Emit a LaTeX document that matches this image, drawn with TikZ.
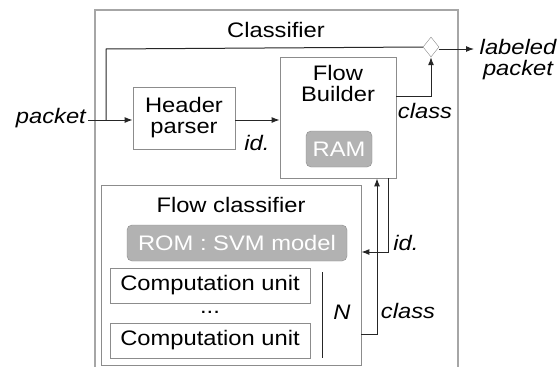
\documentclass[tikz,border=0pt]{standalone}
\usepackage{fontspec}
\setmainfont{Liberation Sans}[FakeStretch=1.13]
\usetikzlibrary{arrows.meta,shapes.geometric}
\begin{document}
\begin{tikzpicture}[x=1pt,y=-1pt,
  font=\fontsize{21}{24}\selectfont,
  box/.style={draw=black!45,line width=0.8pt,fill=white,inner sep=0pt},
  mem/.style={draw=black!45,fill=black!30,rounded corners=5pt,text=white,inner sep=0pt},
  wire/.style={draw=black!85,line width=1pt},
  arr/.style={wire,-{Latex[length=8pt,width=6pt]}},
  lbl/.style={font=\fontsize{21}{24}\selectfont\itshape,inner sep=0pt}]
\useasboundingbox (0,0) rectangle (558,367);
% outer classifier box (open at bottom)
\draw[draw=black!35,line width=1.2pt] (95,380) -- (95,10) -- (458,10) -- (458,380);
\node (cls) at (276,30) {Classifier};
% header parser
\node[box,minimum width=102pt,minimum height=62pt,align=center] (hp) at (184,118) {Header\\[-3pt]parser};
% flow builder
\node[box,minimum width=116pt,minimum height=121pt] (fb) at (338,117.5) {};
\node[align=center,anchor=north] (fbt) at (338,62) {Flow\\[-3pt]Builder};
\node[mem,minimum width=66pt,minimum height=36pt] (ram) at (339,149) {RAM};
% diamond
\node[diamond,draw=black!45,fill=white,minimum width=16pt,minimum height=20pt,inner sep=0pt] (dia) at (431,47) {};
% flow classifier
\node[box,minimum width=260pt,minimum height=180pt] (fc) at (231,275) {};
\node (fct) at (231,205) {Flow classifier};
\node[mem,minimum width=220pt,minimum height=36pt] (rom) at (237,243) {ROM : SVM model};
\node[box,minimum width=200pt,minimum height=35pt] (cu1) at (210,285.5) {Computation unit};
\node (dots) at (210,312) {...};
\node[box,minimum width=200pt,minimum height=35pt] (cu2) at (210,340.5) {Computation unit};
\coordinate (nt) at (322,272);
\coordinate (nb) at (322,358);
\draw[wire] (nt) -- (nb);
\node[lbl] (nlab) at (342,312) {N};
% inputs
\node[lbl,anchor=east] (pk) at (86,118) {packet};
\coordinate (split) at (106,120);
\coordinate (splitup) at (106,49);
\draw[arr] (pk.east) ++(2,2) coordinate (pk0) -- (hp.west |- pk0);
\draw[wire] (split) -- (splitup) -- (dia.west);
\draw[arr] (hp.east |- 0,120) -- (fb.west |- 0,120);
\node[lbl] (idl) at (257,143) {id.};
% class to diamond
\coordinate (cb) at (431,96);
\draw[arr] (fb.east |- cb) -- (cb) -- (dia.south);
\node[lbl] (cl1) at (425,111) {class};
% output
\coordinate (out) at (474,49);
\draw[arr] (dia.east |- out) -- (out);
\node[lbl,align=center] (lp) at (518,60) {labeled\\[-3pt]packet};
% between classifier and builder
\coordinate (c1) at (377,334);
\draw[arr] (fc.east |- c1) -- (c1) -- (c1 |- fb.south);
\node[lbl] (cl2) at (408,311) {class};
\coordinate (i1) at (388,252);
\draw[arr] (i1 |- fb.south) -- (i1) -- (fc.east |- i1);
\node[lbl] (idl2) at (406,243) {id.};
\end{tikzpicture}
\end{document}
